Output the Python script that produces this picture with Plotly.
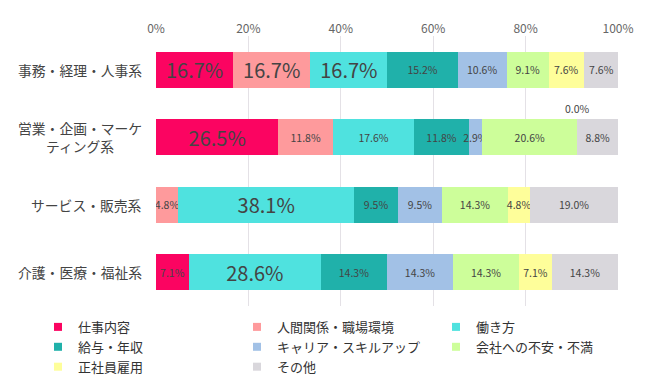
import plotly.graph_objects as go

categories = ["事務・経理・人事系", "営業・企画・マーケ<br>ティング系", "サービス・販売系", "介護・医療・福祉系"]
series_names = ["仕事内容", "人間関係・職場環境", "働き方", "給与・年収",
                "キャリア・スキルアップ", "会社への不安・不満", "正社員雇用", "その他"]
values = {
    "仕事内容":           [16.7, 26.5, 0.0, 7.1],
    "人間関係・職場環境": [16.7, 11.8, 4.8, 0.0],
    "働き方":             [16.7, 17.6, 38.1, 28.6],
    "給与・年収":         [15.2, 11.8, 9.5, 14.3],
    "キャリア・スキルアップ": [10.6, 2.9, 9.5, 14.3],
    "会社への不安・不満": [9.1, 20.6, 14.3, 14.3],
    "正社員雇用":         [7.6, 0.0, 4.8, 7.1],
    "その他":             [7.6, 8.8, 19.0, 14.3],
}
# zero values that are still labelled (category index, series name)
labelled_zeros = [(1, "正社員雇用")]
tick_vals = [0, 20, 40, 60, 80, 100]

colors = ["#fb0461", "#fe9a9c", "#4fe2df", "#20b1aa", "#a2c1e6", "#cdfe9a", "#fefe9a", "#d9d7dc"]

FONT = "Noto Sans CJK JP"
BIG, SMALL = 20, 10.5

row_max = [max(values[s][i] for s in series_names) for i in range(len(categories))]

fig = go.Figure()
for s, c in zip(series_names, colors):
    v = values[s]
    txt = [f"{x:.1f}%" if x > 0 else "" for x in v]
    sizes = [BIG if x == row_max[i] else SMALL for i, x in enumerate(v)]
    fig.add_trace(go.Bar(
        name=s, y=categories, x=v, orientation="h",
        marker=dict(color=c, line=dict(width=0)),
        text=txt, textposition="inside", insidetextanchor="middle",
        constraintext="none", textangle=0,
        textfont=dict(size=sizes, color="#444", family=FONT),
        hoverinfo="skip", showlegend=False,
    ))

# legend entries (small square swatches)
for s, c in zip(series_names, colors):
    fig.add_trace(go.Scatter(
        name=s, x=[None], y=[None], mode="markers",
        marker=dict(symbol="square", size=8, color=c),
        hoverinfo="skip", showlegend=True,
    ))

for ci, s in labelled_zeros:
    idx = series_names.index(s)
    cum = sum(values[series_names[k]][ci] for k in range(idx))
    fig.add_annotation(x=cum, y=categories[ci], text=f"{values[s][ci]:.1f}%",
                       showarrow=False, yshift=29,
                       font=dict(size=SMALL, color="#444", family=FONT))

# category labels (centred multi-line)
for cat in categories:
    fig.add_annotation(x=0, xref="paper", y=cat, yref="y", text=cat,
                       xanchor="right", xshift=-12, align="center",
                       showarrow=False,
                       font=dict(size=13.8, color="#444", family=FONT))

fig.update_layout(
    width=650, height=380,
    barmode="stack", bargap=0.47,
    margin=dict(l=156, r=32, t=36, b=74, autoexpand=False),
    paper_bgcolor="white", plot_bgcolor="white",
    font=dict(family=FONT, color="#333", size=12),
    showlegend=True,
    legend=dict(orientation="h", x=(38 - 156) / 462, xanchor="left",
                y=-0.022, yanchor="top",
                entrywidth=154, entrywidthmode="pixels", traceorder="normal",
                tracegroupgap=0, bgcolor="rgba(0,0,0,0)",
                font=dict(size=13, color="#333", family=FONT)),
    xaxis=dict(side="top", range=[0, 100], tickvals=tick_vals,
               ticktext=[f"{t}%" for t in tick_vals],
               showgrid=True, gridcolor="#e4e1e6", gridwidth=1,
               zeroline=False, showline=False, ticks="",
               tickfont=dict(size=12, color="#666", family=FONT)),
    yaxis=dict(autorange="reversed", showgrid=False, showline=False, ticks="",
               showticklabels=False),
)

fig.write_html("out.html")
